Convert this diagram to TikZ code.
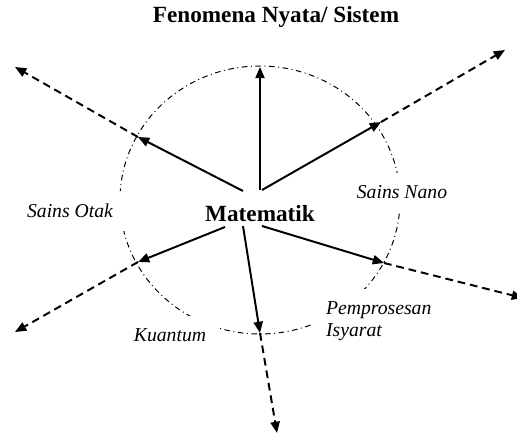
\documentclass[tikz,border=0pt]{standalone}
\usepackage{fontspec}
\setmainfont{Liberation Serif}
\usetikzlibrary{arrows.meta}

\begin{document}
\begin{tikzpicture}[
    x=0.025cm, y=-0.025cm,
    >={Triangle[length=8pt,width=6.5pt]},
    line width=1.4pt,
    lbl/.style={fill=white, inner xsep=10pt, inner ysep=9pt, align=left,
      font=\fontsize{14}{15.6}\selectfont\itshape},
    big/.style={font=\fontsize{16.5}{20}\selectfont\bfseries},
    ext/.style={->, dash pattern=on 5.5pt off 3.5pt}
  ]
  \useasboundingbox (0,0) rectangle (517,439);

  % ring
  \draw[line width=0.7pt, dash pattern=on 4pt off 2.5pt on 0.7pt off 2.5pt]
    (260,200) ellipse [x radius=140, y radius=134];

  % labels (white boxes cut the ring)
  \node[lbl] (otak) at (70,211) {Sains Otak};
  \node[lbl] (nano) at (402,192) {Sains Nano};
  \node[lbl] (kuantum) at (170,335) {Kuantum};
  \node[lbl, anchor=west] (isyarat) at (311,321) {Pemprosesan\\Isyarat};

  % title and centre
  \node[big] (title) at (276,17) {Fenomena Nyata/ Sistem};
  \node[big] (mat) at (260,214) {Matematik};

  % start points, ring points, outer ends
  \coordinate (s1) at (243,191); \coordinate (r1) at (138,137); \coordinate (e1) at (15,67);
  \coordinate (s2) at (260,190); \coordinate (r2) at (260,67);
  \coordinate (s3) at (262,190); \coordinate (r3) at (381,122); \coordinate (e3) at (505,50);
  \coordinate (s4) at (262,226); \coordinate (r4) at (384,263); \coordinate (e4) at (523,298);
  \coordinate (s5) at (243,226); \coordinate (r5) at (260,333); \coordinate (e5) at (277,433);
  \coordinate (s6) at (225,227); \coordinate (r6) at (138,262); \coordinate (e6) at (15,332);

  % arrows
  \foreach \i in {1,...,6}
    \draw[->] (s\i) -- (r\i);
  \foreach \i in {1,3,4,5,6}
    \draw[ext] (r\i) -- (e\i);
\end{tikzpicture}
\end{document}
